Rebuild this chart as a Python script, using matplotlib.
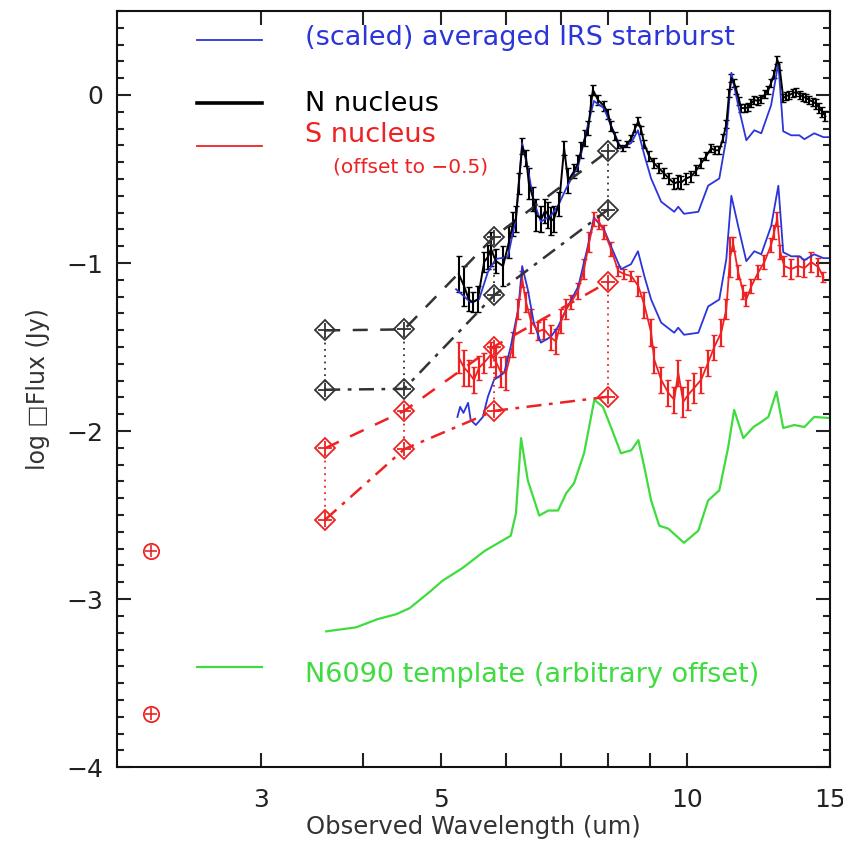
import matplotlib
matplotlib.use("Agg")
import matplotlib.pyplot as plt
from matplotlib.ticker import FixedLocator, FixedFormatter, MultipleLocator

# averaged IRS starburst template, scaled onto the N nucleus
irs_n_wl = [5.21, 5.43, 5.56, 5.70, 5.83, 6.03, 6.17, 6.28, 6.38, 6.49,
            6.62, 6.81, 6.95, 7.11, 7.36, 7.56, 7.69, 7.91, 8.07, 8.30,
            8.54, 8.71, 8.87, 9.04, 9.30, 9.65, 9.76, 9.92, 10.33, 10.62,
            10.96, 11.18, 11.34, 11.56, 11.83, 12.10, 12.34, 12.69, 12.95, 13.13,
            13.43, 13.74, 13.94, 14.33, 14.71, 14.96]
irs_n = [-1.156, -1.234, -1.216, -1.054, -0.976, -0.964, -0.737, -0.287, -0.437, -0.635,
         -0.754, -0.719, -0.659, -0.557, -0.419, -0.180, -0.036, -0.078, -0.180, -0.317,
         -0.287, -0.210, -0.359, -0.497, -0.635, -0.695, -0.665, -0.707, -0.695, -0.539,
         -0.497, -0.257, 0.132, -0.060, -0.269, -0.210, -0.228, -0.060, 0.192, -0.216,
         -0.240, -0.240, -0.263, -0.228, -0.251, -0.251]

# same template scaled onto the S nucleus
irs_s_wl = [5.23, 5.27, 5.32, 5.39, 5.43, 5.51, 5.62, 5.70, 5.80, 5.97,
            6.08, 6.21, 6.28, 6.38, 6.49, 6.62, 6.81, 6.95, 7.11, 7.36,
            7.56, 7.69, 7.91, 8.07, 8.30, 8.54, 8.71, 8.87, 9.04, 9.30,
            9.65, 9.76, 9.92, 10.33, 10.62, 10.96, 11.18, 11.34, 11.56, 11.83,
            12.10, 12.34, 12.69, 12.95, 13.13, 13.43, 13.74, 13.94, 14.33, 14.71,
            14.96]
irs_s = [-1.916, -1.856, -1.892, -1.832, -1.934, -1.964, -1.916, -1.796, -1.695, -1.653,
         -1.497, -1.275, -1.018, -1.157, -1.355, -1.474, -1.439, -1.379, -1.277, -1.139,
         -0.900, -0.730, -0.798, -0.900, -1.037, -1.007, -0.930, -1.079, -1.217, -1.355,
         -1.415, -1.385, -1.427, -1.415, -1.259, -1.217, -0.977, -0.600, -0.780, -0.989,
         -0.930, -0.948, -0.780, -0.540, -0.936, -0.960, -0.960, -0.983, -0.948, -0.971,
         -0.971]

# N nucleus spectrum
n_wl = [5.25, 5.33, 5.40, 5.46, 5.54, 5.64, 5.70, 5.75, 5.83, 5.95,
        6.05, 6.12, 6.17, 6.22, 6.28, 6.35, 6.40, 6.48, 6.53, 6.63,
        6.70, 6.76, 6.81, 6.87, 6.97, 7.07, 7.15, 7.27, 7.35, 7.42,
        7.50, 7.57, 7.63, 7.67, 7.78, 7.92, 8.01, 8.07, 8.17, 8.24,
        8.35, 8.45, 8.55, 8.64, 8.72, 8.79, 8.87, 8.99, 9.12, 9.25,
        9.38, 9.51, 9.65, 9.76, 9.84, 9.98, 10.12, 10.27, 10.41, 10.56,
        10.71, 10.83, 10.96, 11.08, 11.18, 11.27, 11.34, 11.43, 11.50, 11.60,
        11.66, 11.80, 11.90, 12.00, 12.10, 12.24, 12.34, 12.48, 12.59, 12.69,
        12.80, 12.91, 12.99, 13.13, 13.25, 13.36, 13.51, 13.63, 13.78, 13.90,
        14.02, 14.13, 14.30, 14.42, 14.54, 14.67, 14.79]
n_flux = [-1.066, -1.138, -1.216, -1.234, -1.216, -0.994, -0.964, -0.916, -0.988, -1.018,
          -0.874, -0.766, -0.737, -0.527, -0.305, -0.377, -0.527, -0.617, -0.713, -0.737,
          -0.689, -0.713, -0.749, -0.737, -0.647, -0.317, -0.509, -0.455, -0.407, -0.329,
          -0.257, -0.198, -0.048, 0.030, -0.030, -0.066, -0.114, -0.186, -0.246, -0.293,
          -0.317, -0.293, -0.257, -0.198, -0.156, -0.210, -0.293, -0.365, -0.407, -0.437,
          -0.467, -0.497, -0.527, -0.515, -0.521, -0.497, -0.485, -0.449, -0.407, -0.365,
          -0.317, -0.329, -0.329, -0.257, -0.174, 0.012, 0.102, 0.072, 0.030, -0.036,
          -0.078, -0.078, -0.072, -0.048, -0.030, -0.036, -0.024, 0.006, 0.030, 0.072,
          0.126, 0.210, 0.174, -0.018, -0.006, 0.000, 0.012, 0.018, 0.000, -0.012,
          -0.018, -0.030, -0.042, -0.054, -0.078, -0.102, -0.126]
n_err = [0.108, 0.120, 0.072, 0.060, 0.078, 0.060, 0.072, 0.100, 0.072, 0.120,
         0.096, 0.072, 0.078, 0.060, 0.048, 0.048, 0.090, 0.072, 0.096, 0.078,
         0.072, 0.078, 0.084, 0.078, 0.072, 0.042, 0.072, 0.042, 0.048, 0.048,
         0.048, 0.042, 0.048, 0.030, 0.030, 0.030, 0.030, 0.030, 0.024, 0.024,
         0.018, 0.018, 0.018, 0.024, 0.024, 0.024, 0.024, 0.030, 0.030, 0.030,
         0.030, 0.030, 0.030, 0.036, 0.036, 0.030, 0.030, 0.030, 0.030, 0.024,
         0.024, 0.024, 0.024, 0.024, 0.024, 0.024, 0.024, 0.024, 0.024, 0.024,
         0.024, 0.024, 0.024, 0.024, 0.024, 0.024, 0.024, 0.024, 0.024, 0.024,
         0.024, 0.024, 0.024, 0.024, 0.024, 0.024, 0.024, 0.024, 0.024, 0.024,
         0.024, 0.024, 0.024, 0.030, 0.030, 0.030, 0.030]

# S nucleus spectrum (offset to -0.5)
s_wl = [5.25, 5.33, 5.40, 5.48, 5.56, 5.64, 5.75, 5.83, 5.91, 6.00,
        6.12, 6.21, 6.28, 6.35, 6.44, 6.57, 6.68, 6.81, 6.91, 7.01,
        7.11, 7.21, 7.35, 7.48, 7.59, 7.70, 7.80, 7.92, 8.07, 8.24,
        8.38, 8.55, 8.72, 8.87, 9.04, 9.12, 9.30, 9.49, 9.65, 9.76,
        9.90, 10.04, 10.21, 10.41, 10.62, 10.80, 11.02, 11.18, 11.30, 11.40,
        11.56, 11.73, 11.83, 12.00, 12.24, 12.45, 12.69, 12.80, 12.91, 13.02,
        13.17, 13.43, 13.70, 13.94, 14.21, 14.50, 14.71]
s_flux = [-1.563, -1.623, -1.653, -1.695, -1.623, -1.593, -1.545, -1.587, -1.647, -1.653,
          -1.485, -1.275, -1.096, -1.234, -1.347, -1.407, -1.395, -1.443, -1.467, -1.347,
          -1.275, -1.234, -1.168, -1.036, -0.874, -0.737, -0.754, -0.814, -0.916, -1.048,
          -1.066, -1.078, -1.138, -1.251, -1.413, -1.575, -1.695, -1.772, -1.814, -1.653,
          -1.826, -1.784, -1.743, -1.695, -1.593, -1.503, -1.413, -1.275, -0.964, -0.886,
          -1.054, -1.174, -1.216, -1.138, -1.054, -0.994, -0.892, -0.814, -0.737, -0.934,
          -1.018, -1.036, -1.018, -1.030, -0.994, -1.024, -1.084]
s_err = [0.090, 0.108, 0.078, 0.078, 0.072, 0.060, 0.072, 0.090, 0.090, 0.100,
         0.072, 0.060, 0.048, 0.060, 0.072, 0.054, 0.060, 0.072, 0.072, 0.072,
         0.060, 0.042, 0.048, 0.060, 0.060, 0.042, 0.042, 0.042, 0.042, 0.030,
         0.030, 0.030, 0.060, 0.078, 0.078, 0.078, 0.078, 0.078, 0.078, 0.078,
         0.090, 0.090, 0.090, 0.078, 0.078, 0.072, 0.078, 0.060, 0.120, 0.042,
         0.042, 0.042, 0.042, 0.042, 0.042, 0.042, 0.042, 0.042, 0.042, 0.042,
         0.060, 0.060, 0.060, 0.054, 0.060, 0.054, 0.030]

# N6090 template (arbitrary offset)
n6090_wl = [3.61, 3.93, 4.17, 4.40, 4.57, 4.85, 5.01, 5.31, 5.65, 6.08,
            6.17, 6.26, 6.38, 6.59, 6.76, 6.95, 7.11, 7.27, 7.48, 7.70,
            7.89, 8.07, 8.30, 8.55, 8.72, 8.87, 9.04, 9.25, 9.49, 9.92,
            10.33, 10.62, 10.96, 11.24, 11.43, 11.73, 12.07, 12.34, 12.59, 12.88,
            13.13, 13.55, 13.94, 14.33, 14.92]
n6090 = [-3.192, -3.168, -3.120, -3.090, -3.054, -2.952, -2.892, -2.814, -2.713, -2.623,
         -2.491, -2.042, -2.293, -2.503, -2.473, -2.473, -2.371, -2.311, -2.132, -1.814,
         -1.856, -1.976, -2.132, -2.114, -2.054, -2.216, -2.413, -2.563, -2.581, -2.665,
         -2.593, -2.413, -2.353, -2.096, -1.874, -2.042, -1.976, -1.946, -1.916, -1.766,
         -1.982, -1.964, -1.976, -1.916, -1.922]

# IRAC photometry
irac_wl = [3.6, 4.5, 5.8, 8.0]
n_phot_a = [-1.401, -1.395, -0.844, -0.335]
n_phot_b = [-1.754, -1.749, -1.192, -0.683]
s_phot_a = [-2.102, -1.880, -1.497, -1.114]
s_phot_b = [-2.527, -2.108, -1.880, -1.796]

# K band points
k_wl = [2.2, 2.2]
k_flux = [-2.714, -3.685]

BLUE = "#2b35d8"
RED = "#ee2222"
GREEN = "#3fdc3f"
GREY = "#333333"

plt.rcParams["font.family"] = "DejaVu Sans"
fig = plt.figure(figsize=(8.43, 8.43), dpi=100)
ax = fig.add_axes([0.139, 0.090, 0.846, 0.897])

ax.plot(n6090_wl, n6090, color=GREEN, lw=1.6)

ax.errorbar(n_wl, n_flux, yerr=n_err, color="k", lw=1.4, elinewidth=1.5,
            capsize=2, capthick=1.0)
ax.errorbar(s_wl, s_flux, yerr=s_err, color=RED, lw=1.3, elinewidth=1.6,
            capsize=2.5, capthick=1.0)

ax.plot(irs_n_wl, irs_n, color=BLUE, lw=1.3)
ax.plot(irs_s_wl, irs_s, color=BLUE, lw=1.3)

# photometry: dotted verticals, dashed / dash-dot SEDs, diamond-plus markers
for w, a, b in zip(irac_wl, n_phot_a, n_phot_b):
    ax.plot([w, w], [a, b], color=GREY, lw=1.3, ls=(0, (1, 2.5)))
for w, a, b in zip(irac_wl, s_phot_a, s_phot_b):
    ax.plot([w, w], [a, b], color=RED, lw=1.3, ls=(0, (1, 2.5)))
ax.plot(irac_wl, n_phot_a, color=GREY, lw=1.8, ls=(0, (6, 5)))
ax.plot(irac_wl, n_phot_b, color=GREY, lw=1.8, ls=(0, (6, 3, 1.5, 3)))
ax.plot(irac_wl, s_phot_a, color=RED, lw=1.8, ls=(0, (6, 5)))
ax.plot(irac_wl, s_phot_b, color=RED, lw=1.8, ls=(0, (6, 3, 1.5, 3)))
for ys, c in [(n_phot_a, GREY), (n_phot_b, GREY), (s_phot_a, RED), (s_phot_b, RED)]:
    ax.plot(irac_wl, ys, ls="none", marker="D", ms=10.5, mfc="none", mec=c, mew=1.3)
    ax.plot(irac_wl, ys, ls="none", marker="+", ms=10, mec=c, mew=1.3)

ax.plot(k_wl, k_flux, ls="none", marker="o", ms=11, mfc="none", mec=RED, mew=1.3)
ax.plot(k_wl, k_flux, ls="none", marker="+", ms=9, mec=RED, mew=1.2)

# legend drawn by hand like the original
tr = ax.transAxes
fs = 19.5
ax.plot([0.112, 0.203], [0.962, 0.962], color=BLUE, lw=1.3, transform=tr)
ax.text(0.264, 0.964, "(scaled) averaged IRS starburst", color=BLUE, fontsize=fs,
        transform=tr, va="center")
ax.plot([0.112, 0.203], [0.878, 0.878], color="k", lw=2.6, transform=tr)
ax.text(0.264, 0.877, "N nucleus", color="k", fontsize=fs, transform=tr, va="center")
ax.plot([0.112, 0.203], [0.822, 0.822], color=RED, lw=1.3, transform=tr)
ax.text(0.264, 0.836, "S nucleus", color=RED, fontsize=fs, transform=tr, va="center")
ax.text(0.303, 0.794, "(offset to \u22120.5)", color=RED, fontsize=14.5, transform=tr,
        va="center")
ax.plot([0.112, 0.203], [0.133, 0.133], color=GREEN, lw=1.6, transform=tr)
ax.text(0.264, 0.122, "N6090 template (arbitrary offset)", color=GREEN, fontsize=fs,
        transform=tr, va="center")

ax.set_xscale("log")
ax.set_xlim(2.0, 15.0)
ax.set_ylim(-4.0, 0.5)

ax.xaxis.set_major_locator(FixedLocator([3, 4, 5, 6, 7, 8, 9, 10, 15]))
ax.xaxis.set_major_formatter(FixedFormatter(["3", "", "5", "", "", "", "", "10", "15"]))
ax.xaxis.set_minor_locator(FixedLocator([]))
ax.yaxis.set_major_locator(MultipleLocator(1))
ax.yaxis.set_minor_locator(MultipleLocator(0.1))

ax.tick_params(which="both", direction="in", top=True, right=True, width=1.5,
               labelsize=18, colors="#222222")
ax.tick_params(which="major", length=10)
ax.tick_params(axis="x", which="major", pad=15)
ax.tick_params(axis="y", which="major", pad=10)
ax.tick_params(which="minor", length=5)
for s in ax.spines.values():
    s.set_linewidth(1.5)
    s.set_color("#111111")

ax.set_xlabel("Observed Wavelength (um)", fontsize=17.5, color="#333333", labelpad=2)
ax.set_ylabel("log \u25a1Flux (Jy)", fontsize=17, color="#333333", labelpad=12)

fig.savefig("out.png", dpi=100)
